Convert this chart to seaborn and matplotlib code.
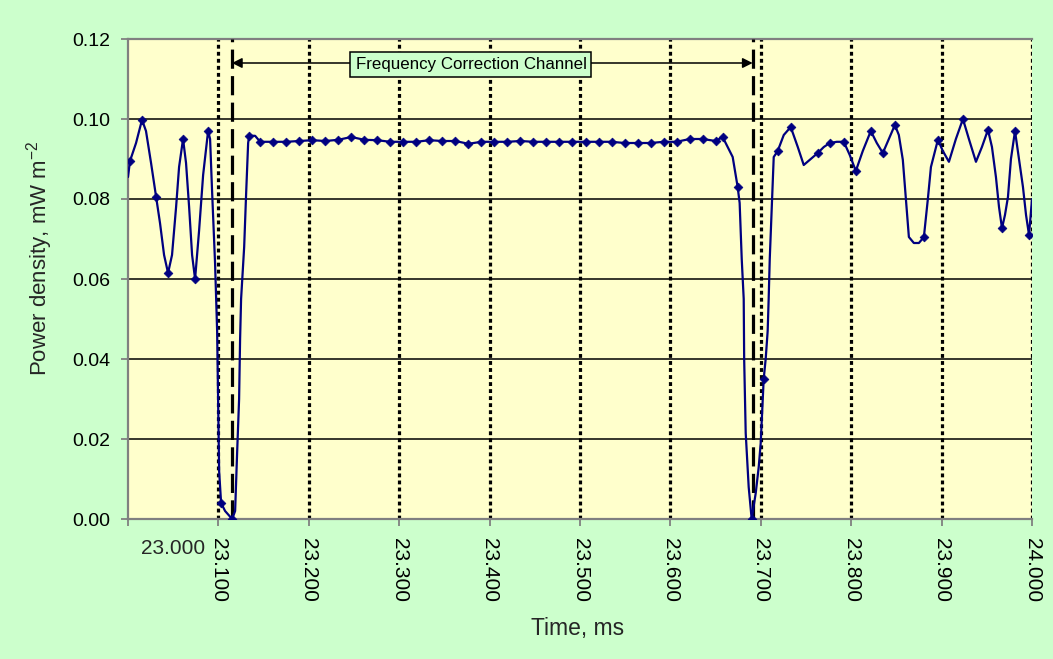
import numpy as np
import matplotlib
matplotlib.use("Agg")
import matplotlib.pyplot as plt
import seaborn as sns

# ---------------- data ----------------
time_ms = [
    23.0000, 23.0022, 23.0089, 23.0155, 23.0199, 23.0255, 23.0310, 23.0354, 23.0399, 23.0443,
    23.0487, 23.0532, 23.0565, 23.0609, 23.0642, 23.0676, 23.0709, 23.0742, 23.0786, 23.0831,
    23.0886, 23.0908, 23.0930, 23.0963, 23.0986, 23.0997, 23.1008, 23.1030, 23.1074, 23.1152,
    23.1185, 23.1207, 23.1229, 23.1240, 23.1251, 23.1285, 23.1307, 23.1329, 23.1340, 23.1406,
    23.1462, 23.1606, 23.1750, 23.1894, 23.2038, 23.2182, 23.2326, 23.2470, 23.2614, 23.2757,
    23.2901, 23.3045, 23.3189, 23.3333, 23.3477, 23.3621, 23.3765, 23.3909, 23.4053, 23.4197,
    23.4341, 23.4485, 23.4629, 23.4773, 23.4917, 23.5061, 23.5205, 23.5349, 23.5493, 23.5637,
    23.5781, 23.5925, 23.6069, 23.6213, 23.6357, 23.6501, 23.6578, 23.6689, 23.6744, 23.6766,
    23.6789, 23.6811, 23.6816, 23.6833, 23.6866, 23.6899, 23.6944, 23.6977, 23.6999, 23.7021,
    23.7032, 23.7054, 23.7076, 23.7087, 23.7099, 23.7143, 23.7187, 23.7254, 23.7331, 23.7409,
    23.7475, 23.7553, 23.7630, 23.7697, 23.7763, 23.7841, 23.7918, 23.7984, 23.8051, 23.8128,
    23.8217, 23.8283, 23.8350, 23.8416, 23.8483, 23.8527, 23.8571, 23.8605, 23.8638, 23.8693,
    23.8749, 23.8804, 23.8848, 23.8882, 23.8959, 23.9014, 23.9081, 23.9158, 23.9236, 23.9302,
    23.9380, 23.9446, 23.9513, 23.9557, 23.9601, 23.9635, 23.9668, 23.9701, 23.9734, 23.9767,
    23.9812, 23.9856, 23.9900, 23.9934, 23.9967, 24.0000,
]
power = [
    0.0855, 0.0895, 0.0940, 0.0998, 0.0970, 0.0890, 0.0806, 0.0740, 0.0660, 0.0615,
    0.0660, 0.0780, 0.0880, 0.0950, 0.0890, 0.0780, 0.0660, 0.0600, 0.0720, 0.0860,
    0.0970, 0.0950, 0.0820, 0.0640, 0.0470, 0.0300, 0.0120, 0.0040, 0.0020, 0.0000,
    0.0020, 0.0165, 0.0300, 0.0450, 0.0550, 0.0680, 0.0815, 0.0940, 0.0958, 0.0958,
    0.0943, 0.0943, 0.0943, 0.0945, 0.0947, 0.0945, 0.0948, 0.0955, 0.0948, 0.0947,
    0.0943, 0.0943, 0.0943, 0.0947, 0.0945, 0.0945, 0.0938, 0.0943, 0.0943, 0.0943,
    0.0945, 0.0943, 0.0943, 0.0943, 0.0943, 0.0943, 0.0943, 0.0943, 0.0940, 0.0940,
    0.0940, 0.0943, 0.0943, 0.0950, 0.0950, 0.0945, 0.0955, 0.0905, 0.0830, 0.0790,
    0.0650, 0.0550, 0.0400, 0.0215, 0.0080, 0.0000, 0.0065, 0.0130, 0.0190, 0.0300,
    0.0350, 0.0400, 0.0470, 0.0550, 0.0650, 0.0905, 0.0920, 0.0960, 0.0980, 0.0930,
    0.0885, 0.0900, 0.0915, 0.0930, 0.0940, 0.0943, 0.0943, 0.0910, 0.0870, 0.0920,
    0.0970, 0.0940, 0.0915, 0.0950, 0.0985, 0.0960, 0.0898, 0.0800, 0.0705, 0.0690,
    0.0690, 0.0705, 0.0800, 0.0880, 0.0948, 0.0920, 0.0893, 0.0950, 0.1000, 0.0950,
    0.0893, 0.0930, 0.0973, 0.0930, 0.0855, 0.0780, 0.0727, 0.0760, 0.0805, 0.0900,
    0.0970, 0.0900, 0.0830, 0.0760, 0.0710, 0.0800,
]
marked = [
    0, 1, 0, 1, 0, 0, 1, 0, 0, 1,
    0, 0, 0, 1, 0, 0, 0, 1, 0, 0,
    1, 0, 0, 0, 0, 0, 0, 1, 0, 1,
    0, 0, 0, 0, 0, 0, 0, 0, 1, 0,
    1, 1, 1, 1, 1, 1, 1, 1, 1, 1,
    1, 1, 1, 1, 1, 1, 1, 1, 1, 1,
    1, 1, 1, 1, 1, 1, 1, 1, 1, 1,
    1, 1, 1, 1, 1, 1, 1, 0, 1, 0,
    0, 0, 0, 0, 0, 1, 0, 0, 0, 0,
    1, 0, 0, 0, 0, 0, 1, 0, 1, 0,
    0, 0, 1, 0, 1, 0, 1, 0, 1, 0,
    1, 0, 1, 0, 1, 0, 0, 0, 0, 0,
    0, 1, 0, 0, 1, 0, 0, 0, 1, 0,
    0, 0, 1, 0, 0, 0, 1, 0, 0, 0,
    1, 0, 0, 0, 1, 0,
]

x_ticks = [23.0, 23.1, 23.2, 23.3, 23.4, 23.5, 23.6, 23.7, 23.8, 23.9, 24.0]
y_ticks = [0.00, 0.02, 0.04, 0.06, 0.08, 0.10, 0.12]
fcch_start = 23.115
fcch_end = 23.691
arrow_level = 0.114
channel_label = "Frequency Correction Channel"
label_pos = (23.3794, 0.1136)
x_label = "Time, ms"
y_label = "Power density, mW m$^{-2}$"

# ---------------- style ----------------
sns.set_theme(style="white")
plt.rcParams["font.family"] = ["Liberation Sans", "DejaVu Sans"]
plt.rcParams["mathtext.fontset"] = "custom"
plt.rcParams["mathtext.rm"] = "Liberation Sans"
plt.rcParams["mathtext.it"] = "Liberation Sans:italic"
plt.rcParams["mathtext.default"] = "regular"

W, H = 1053, 659
fig = plt.figure(figsize=(W / 100, H / 100), dpi=100, facecolor="#CCFFCC")
ax = fig.add_axes([128 / W, 140 / H, 904 / W, 480 / H])
ax.set_facecolor("#FFFFCC")

# horizontal grid lines
for yv in y_ticks[1:-1]:
    ax.axhline(yv, color="black", lw=1.1, zorder=1)

# dotted verticals at the ticks
for xv in x_ticks[1:]:
    ax.axvline(xv, color="black", lw=2.3, linestyle=(0, (1.2, 1.0)),
               dash_capstyle="butt", zorder=2)

# dashed channel boundaries
for xv in (fcch_start, fcch_end):
    ax.axvline(xv, color="black", lw=2.3, linestyle=(0, (6, 2.3)), zorder=3)

# curve
sns.lineplot(x=time_ms, y=power, sort=False, estimator=None, color="#000080",
             lw=1.6, ax=ax, zorder=4)
mx = [t for t, m in zip(time_ms, marked) if m]
my = [p for p, m in zip(power, marked) if m]
sns.scatterplot(x=mx, y=my, marker="D", s=20, color="#000080",
                edgecolor="#000080", linewidth=0.5, ax=ax, zorder=5)

# channel arrow + label
ax.annotate("", xy=(fcch_start, arrow_level), xytext=(fcch_end, arrow_level),
            arrowprops=dict(arrowstyle="<|-|>", color="black", lw=1.1,
                            mutation_scale=15, shrinkA=0, shrinkB=0),
            zorder=5)
ax.text(label_pos[0], label_pos[1], channel_label, ha="center", va="center",
        fontsize=12.2, color="black", zorder=7,
        bbox=dict(boxstyle="square,pad=0.3", fc="#CCFFCC", ec="black", lw=1.1))

# axes
ax.set_xlim(x_ticks[0], x_ticks[-1])
ax.set_ylim(y_ticks[0], y_ticks[-1])
ax.set_xticks(x_ticks)
ax.set_xticklabels(["" if i == 0 else f"{t:.3f}" for i, t in enumerate(x_ticks)],
                   rotation=-90, fontsize=15)
ax.set_yticks(y_ticks)
ax.set_yticklabels([f"{v:.2f}" for v in y_ticks], fontsize=14)
ax.tick_params(axis="both", direction="out", color="#808080", width=1.3,
               length=5, bottom=True, left=True, labelcolor="black")
ax.tick_params(axis="x", pad=9)
ax.tick_params(axis="y", pad=8)
ax.set_xlabel("")
ax.set_ylabel("")

# first x label drawn horizontally (as in the reference)
ax.annotate(f"{x_ticks[0]:.3f}", xy=(x_ticks[0], 0), xycoords=("data", "axes fraction"),
            xytext=(45 * 0.72, -30 * 0.72), textcoords="offset points",
            ha="center", va="center", fontsize=15)

for side in ("left", "bottom", "top"):
    ax.spines[side].set_color("#808080")
    ax.spines[side].set_linewidth(1.6)
ax.spines["right"].set_visible(False)

fig.text(578 / W, 1 - 629 / H, x_label, ha="center", va="center", fontsize=16.5)
fig.text(40 / W, 1 - 258 / H, y_label, ha="center", va="center", rotation=90,
         fontsize=16)

fig.savefig("out.png", dpi=100, facecolor=fig.get_facecolor())
